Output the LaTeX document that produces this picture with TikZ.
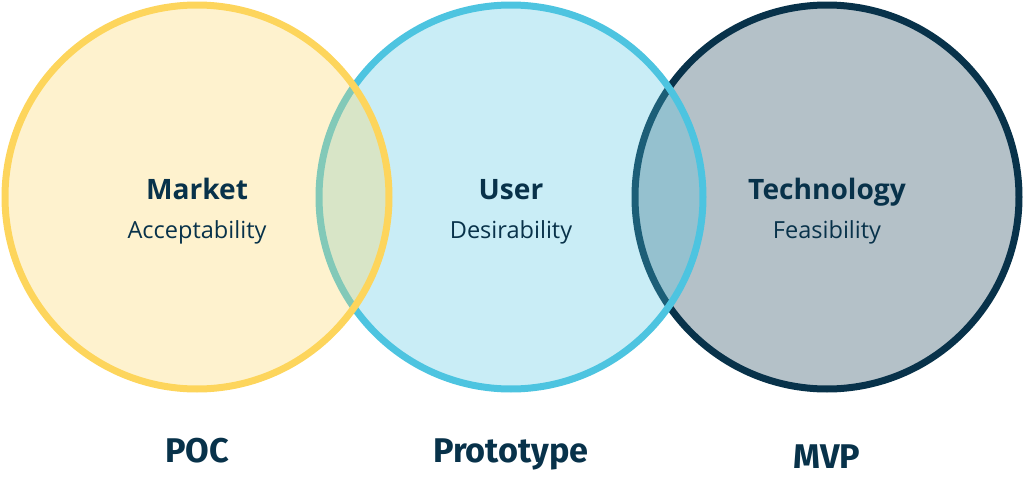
\documentclass[tikz,border=0pt]{standalone}
\usepackage{fontspec}
\setmainfont{Open Sans}
\newfontfamily\stagefont{Fira Sans}
\usetikzlibrary{positioning}
\definecolor{marketyellow}{HTML}{FDD55C}
\definecolor{userblue}{HTML}{4DC4E0}
\definecolor{technavy}{HTML}{08324A}

\begin{document}
\begin{tikzpicture}[
    title/.style={anchor=base, text=technavy, font=\fontsize{16}{18}\selectfont\bfseries},
    subtitle/.style={anchor=base, text=technavy, font=\fontsize{13.4}{15}\selectfont},
    stage/.style={anchor=base, text=technavy, font=\stagefont\fontsize{19.5}{22}\selectfont\bfseries}
  ]
    \useasboundingbox (0,0) rectangle (20.48,9.86);

    % Draw circles, back to front
    \foreach \n/\x/\c in {tech/16.54/technavy, user/10.22/userblue, market/3.94/marketyellow} {
      \draw[line width=0.14cm, draw=\c, fill=\c, fill opacity=0.3] (\x,5.92) circle (3.84);
      \coordinate (\n) at (\x,5.92);
    }

    % Labels inside the circles
    \foreach \n/\x/\t/\s in {market/3.94/Market/Acceptability, user/10.22/User/Desirability, tech/16.54/Technology/Feasibility} {
      \node[title] (\n title) at (\x,5.88) {\t};
      \node[subtitle] (\n sub) at (\x,5.10) {\s};
    }

    % Stages below
    \node[stage] (poc) at (3.94,0.62) {POC};
    \node[stage] (prototype) at (10.22,0.62) {Prototype};
    \node[stage] (mvp) at (16.54,0.50) {MVP};

\end{tikzpicture}
\end{document}
